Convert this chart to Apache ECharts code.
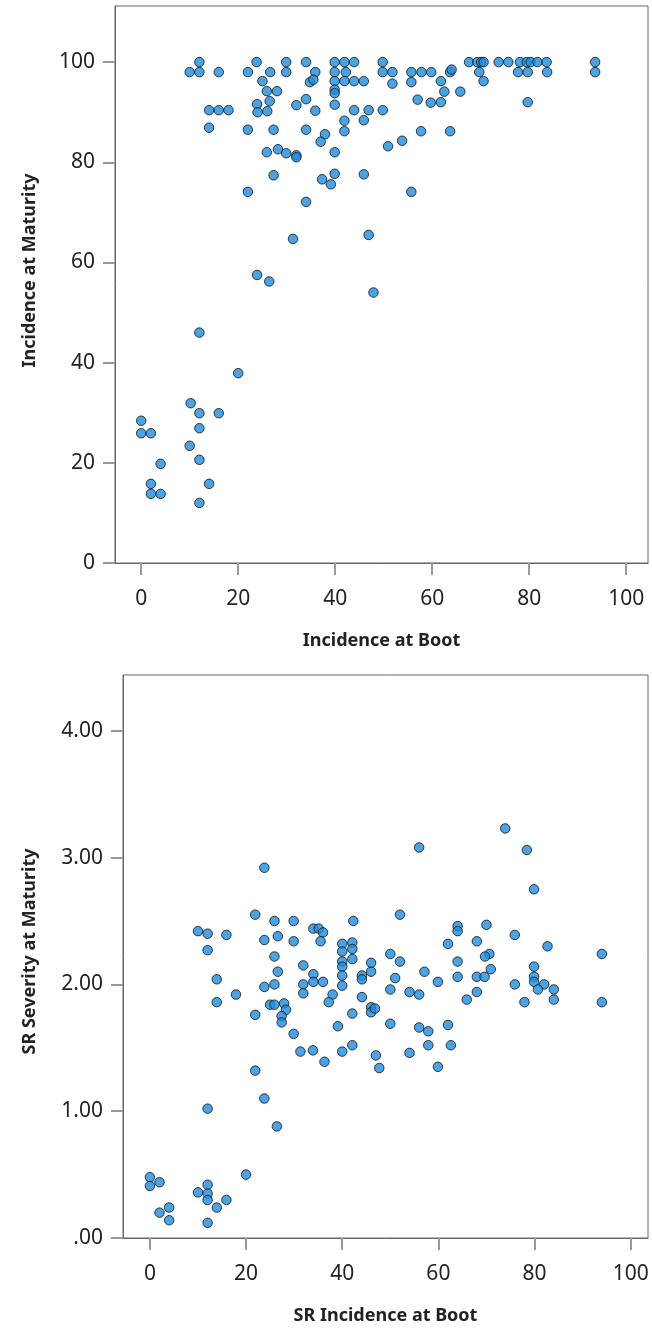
<!DOCTYPE html>
<html>
<head>
<meta charset="utf-8">
<title>Incidence scatter</title>
<script src="https://cdn.jsdelivr.net/npm/echarts@6/dist/echarts.min.js"></script>
<style>
    html, body { margin: 0; padding: 0; background: #fff; }
    #main { width: 652px; height: 1329px; }
</style>
</head>
<body>
<div id="main"></div>
<script>
// top plot: incidence at boot vs incidence at maturity
var incBoot = [
    12, 23.8, 29.9, 34, 39.9, 41.9, 43.9, 49.8, 67.6, 69.3, 70.1, 70.6, 73.7, 75.7, 78.1, 79.5, 80.3, 81.7, 83.6, 93.6,
    10, 12, 16, 22, 26.6, 29.9, 35.9, 39.9, 42.2, 49.8, 51.8, 55.7, 57.8, 59.8, 63.7, 64, 69.7, 77.7, 79.7, 83.7, 93.6,
    25, 34.8, 35.5, 39.9, 41.9, 43.9, 45.9, 51.8, 55.7, 61.8, 70.6,
    25.9, 28, 39.9, 39.9, 62.5, 65.8,
    26.5, 34, 39.9, 32, 23.9, 57, 59.7, 61.8, 79.7,
    14, 16, 18, 24, 26, 35.9, 43.9, 46.9, 49.8,
    41.9, 45.9,
    14, 22, 27.3, 34, 41.9, 57.7, 63.7,
    37.9, 37, 53.8, 50.9,
    25.9, 28.2, 29.9, 32, 32, 39.9,
    27.3, 39.9, 45.9, 37.3, 39.1,
    22, 55.7, 34,
    31.3, 46.9, 23.9, 26.4, 47.9, 12, 20,
    10.2, 12, 16, 0, 0, 2, 12, 10, 12, 4, 2, 14, 2, 4, 12
];
var incMaturity = [
    100, 100, 100, 100, 100, 100, 100, 100, 100, 100, 100, 100, 100, 100, 100, 100, 100, 100, 100, 100,
    98, 98, 98, 98, 98, 98, 98, 98, 98, 98, 98, 98, 98, 98, 98, 98.5, 98, 98, 98, 98, 98,
    96.2, 96, 96.5, 96.2, 96.2, 96.2, 96.2, 95.7, 96, 96.2, 96.2,
    94.2, 94.2, 94.5, 93.8, 94.1, 94.1,
    92.2, 92.6, 91.5, 91.4, 91.6, 92.5, 91.9, 92, 92,
    90.4, 90.4, 90.4, 90, 90.2, 90.3, 90.4, 90.4, 90.4,
    88.3, 88.4,
    86.9, 86.5, 86.5, 86.5, 86.2, 86.2, 86.2,
    85.6, 84.1, 84.3, 83.2,
    82, 82.6, 81.8, 81.4, 81, 82,
    77.4, 77.7, 77.6, 76.6, 75.6,
    74.1, 74.1, 72.1,
    64.7, 65.5, 57.5, 56.2, 54, 46, 37.9,
    31.9, 29.9, 29.9, 28.4, 25.9, 25.9, 26.9, 23.4, 20.6, 19.8, 15.8, 15.8, 13.8, 13.8, 12
];

// bottom plot: SR incidence at boot vs SR severity at maturity
var srBoot = [
    23.8, 21.9, 25.9, 29.9, 42.3, 10, 12, 15.9, 23.8, 26.6, 29.9, 34, 35.1, 36, 35.5, 40, 42.1, 40, 42.1, 12, 25.9, 40, 42.1,
    40, 40, 40, 31.9, 26.6, 34, 34, 36, 31.9, 31.9, 25.9, 23.8, 13.9, 17.9, 13.9, 25, 25.9, 27.9, 28.3, 27.4, 27.4, 21.9,
    29.9, 31.3, 33.9, 36.3, 38, 37.2, 39.1, 40, 42.1, 44.1, 44.1, 44.1, 42.1, 46, 46, 46, 46, 46.8, 47, 47.7,
    21.9, 23.8, 12, 26.4,
    56, 73.9, 78.4, 79.9, 52, 64, 64, 70, 75.9, 62, 68, 82.7, 50, 70.6, 69.7, 94, 52, 64,
    57.1, 70.9, 79.9, 51, 64, 68, 69.6, 79.9, 79.9, 82, 80.7, 84, 84, 75.9, 77.9, 94, 59.9, 50, 54, 56, 68, 65.9,
    50, 56, 57.9, 62, 57.9, 62.6, 54, 59.9,
    20, 0, 0, 2, 12, 10, 12, 12, 15.9, 13.9, 4, 2, 4, 12
];
var srSeverity = [
    2.92, 2.55, 2.50, 2.50, 2.50, 2.42, 2.40, 2.39, 2.35, 2.38, 2.34, 2.44, 2.44, 2.41, 2.34, 2.32, 2.33, 2.26, 2.28, 2.27, 2.22, 2.18, 2.20,
    2.14, 2.07, 1.99, 2.15, 2.10, 2.08, 2.02, 2.02, 2.00, 1.93, 2.00, 1.98, 2.04, 1.92, 1.86, 1.84, 1.84, 1.85, 1.80, 1.75, 1.70, 1.76,
    1.61, 1.47, 1.48, 1.39, 1.92, 1.86, 1.67, 1.47, 1.52, 2.07, 2.04, 1.90, 1.77, 2.17, 2.10, 1.82, 1.78, 1.81, 1.44, 1.34,
    1.32, 1.10, 1.02, 0.88,
    3.08, 3.23, 3.06, 2.75, 2.55, 2.46, 2.42, 2.47, 2.39, 2.32, 2.34, 2.30, 2.24, 2.24, 2.22, 2.24, 2.18, 2.18,
    2.10, 2.12, 2.14, 2.05, 2.06, 2.06, 2.06, 2.06, 2.02, 2.00, 1.96, 1.96, 1.88, 2.00, 1.86, 1.86, 2.02, 1.96, 1.94, 1.92, 1.94, 1.88,
    1.69, 1.66, 1.63, 1.68, 1.52, 1.52, 1.46, 1.35,
    0.50, 0.48, 0.41, 0.44, 0.42, 0.36, 0.35, 0.30, 0.30, 0.24, 0.24, 0.20, 0.14, 0.12
];

// tick labels
var xTicks = [0, 20, 40, 60, 80, 100];
var topYTicks = [0, 20, 40, 60, 80, 100];
var botYTicks = [0, 1, 2, 3, 4];

window.onload = function () {
    drawCharts();
};

function pairs(xs, ys) {
    var out = [];
    for (var i = 0; i < xs.length; i++) {
        out.push([xs[i], ys[i]]);
    }
    return out;
}

function drawCharts() {
    var myChart = echarts.init(document.getElementById('main'));

    var labelFont = { color: '#222', fontSize: 21, fontFamily: 'Noto Sans' };
    var nameFont = { color: '#222', fontSize: 18, fontWeight: 'bold', fontFamily: 'Noto Sans' };

    // each axis gets its own option objects
    function frameLine() {
        return { show: true, onZero: false, lineStyle: { color: '#666', width: 1 } };
    }

    function ticks(values) {
        return { show: true, length: 12, customValues: values, lineStyle: { color: '#999999', width: 2 } };
    }

    function xAxis(idx, min, max, name) {
        return {
            type: 'value', gridIndex: idx, min: min, max: max,
            name: name, nameLocation: 'middle', nameGap: 69, nameTextStyle: Object.assign({}, nameFont),
            axisLine: frameLine(),
            axisTick: ticks(xTicks),
            axisLabel: Object.assign({ customValues: xTicks, margin: 26 }, labelFont),
            splitLine: { show: false }
        };
    }

    // y titles sit a little above the middle of the frame
    function yName(shift) {
        return Object.assign({ padding: [0, 0, 0, shift * 2] }, nameFont);
    }

    var option = {
        animation: false,
        backgroundColor: '#fff',
        grid: [
            { left: 115, top: 6, right: 4, height: 557, show: true, borderColor: '#666', borderWidth: 1 },
            { left: 123, top: 675, right: 4, height: 563, show: true, borderColor: '#666', borderWidth: 1 }
        ],
        xAxis: [
            xAxis(0, -5.4, 104.5, 'Incidence at Boot'),
            xAxis(1, -5.6, 103.6, 'SR Incidence at Boot')
        ],
        yAxis: [
            {
                type: 'value', gridIndex: 0, min: 0, max: 111.2,
                name: 'Incidence at Maturity', nameLocation: 'middle', nameGap: 76, nameTextStyle: yName(14),
                axisLine: frameLine(),
                axisTick: ticks(topYTicks),
                axisLabel: Object.assign({ customValues: topYTicks, margin: 20 }, labelFont),
                splitLine: { show: false }
            },
            {
                type: 'value', gridIndex: 1, min: 0, max: 4.44,
                name: 'SR Severity at Maturity', nameLocation: 'middle', nameGap: 84, nameTextStyle: yName(5),
                axisLine: frameLine(),
                axisTick: ticks(botYTicks),
                axisLabel: Object.assign({
                    customValues: botYTicks, margin: 20,
                    formatter: function (v) { return v === 0 ? '.00' : v.toFixed(2); }
                }, labelFont),
                splitLine: { show: false }
            }
        ],
        series: [
            {
                name: 'Incidence', type: 'scatter', xAxisIndex: 0, yAxisIndex: 0,
                symbolSize: 9.5,
                itemStyle: { color: '#1a8de0', borderColor: '#111', borderWidth: 1 },
                data: pairs(incBoot, incMaturity)
            },
            {
                name: 'SR', type: 'scatter', xAxisIndex: 1, yAxisIndex: 1,
                symbolSize: 9.5,
                itemStyle: { color: '#1a8de0', borderColor: '#111', borderWidth: 1 },
                data: pairs(srBoot, srSeverity)
            }
        ]
    };

    myChart.setOption(option);
}
</script>
</body>
</html>
